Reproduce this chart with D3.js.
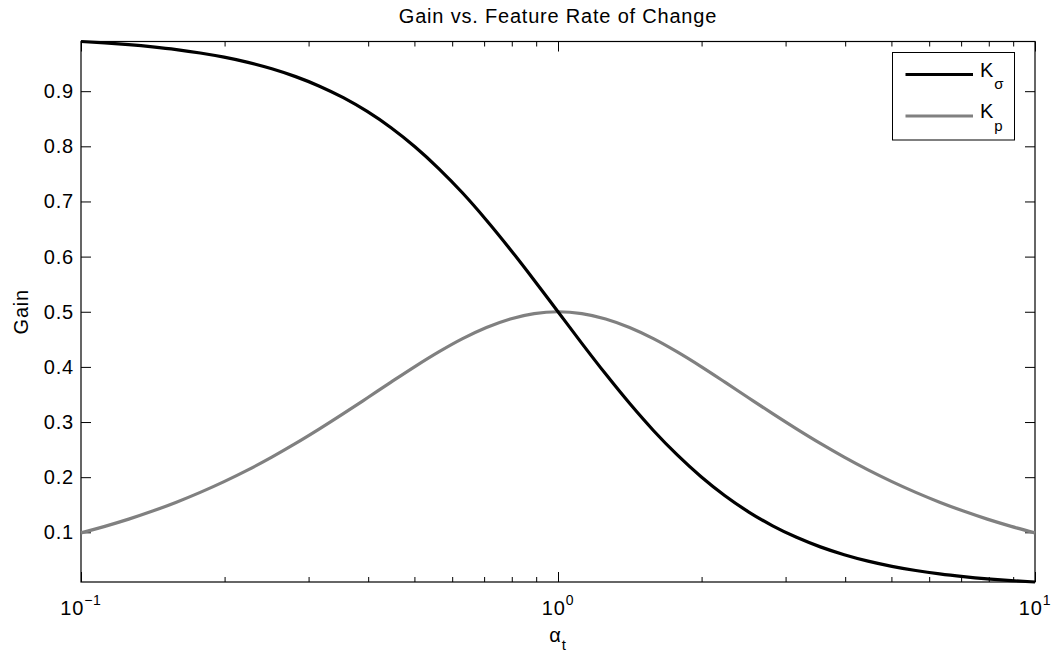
<!DOCTYPE html>
<meta charset="utf-8">
<title>Gain vs. Feature Rate of Change</title>
<style>
    body {
        margin: 0;
        background: #fff;
    }
    svg text {
        font-family: "Liberation Sans", Arial, Helvetica, sans-serif;
        fill: #000;
        letter-spacing: 0.8px;
    }
</style>

<body>
    <script src="https://d3js.org/d3.v7.min.js"></script>
    <script>
        /* alpha_t values (log spaced, 0.1 .. 10) */
        var alpha = [0.1000, 0.1122, 0.1259, 0.1413, 0.1585, 0.1778, 0.1995, 0.2239, 0.2512, 0.2818,
            0.3162, 0.3548, 0.3981, 0.4467, 0.5012, 0.5623, 0.6310, 0.7079, 0.7943, 0.8913,
            1.0000, 1.1220, 1.2589, 1.4125, 1.5849, 1.7783, 1.9953, 2.2387, 2.5119, 2.8184,
            3.1623, 3.5481, 3.9811, 4.4668, 5.0119, 5.6234, 6.3096, 7.0795, 7.9433, 8.9125,
            10.000];

        /* K_sigma gain */
        var kSigma = [0.9901, 0.9876, 0.9844, 0.9804, 0.9755, 0.9693, 0.9617, 0.9523, 0.9406, 0.9264,
            0.9091, 0.8882, 0.8632, 0.8337, 0.7992, 0.7597, 0.7153, 0.6661, 0.6131, 0.5573,
            0.5000, 0.4427, 0.3869, 0.3339, 0.2847, 0.2403, 0.2008, 0.1663, 0.1368, 0.1118,
            0.0909, 0.0736, 0.0594, 0.0477, 0.0383, 0.0307, 0.0245, 0.0196, 0.0156, 0.0124,
            0.0099];

        /* K_p gain */
        var kP = [0.0990, 0.1108, 0.1239, 0.1385, 0.1546, 0.1724, 0.1919, 0.2132, 0.2363, 0.2611,
            0.2875, 0.3151, 0.3436, 0.3724, 0.4006, 0.4272, 0.4513, 0.4715, 0.4870, 0.4967,
            0.5000, 0.4967, 0.4870, 0.4715, 0.4513, 0.4272, 0.4006, 0.3724, 0.3436, 0.3151,
            0.2875, 0.2611, 0.2363, 0.2132, 0.1919, 0.1724, 0.1546, 0.1385, 0.1239, 0.1108,
            0.0990];

        var xTicks = [0.1, 1, 10];
        var xTickExp = ["\u22121", "0", "1"];
        var yTicks = [0.1, 0.2, 0.3, 0.4, 0.5, 0.6, 0.7, 0.8, 0.9];
        var yDomain = [0.0099, 0.9901];

        /* Layout constants (plotTop: "top" is taken by window.top) */
        var width = 1053,
            height = 653;
        var plotLeft = 81, plotRight = 1035, plotTop = 41.5, plotBottom = 582;

        var svg = d3.select("body").append("svg")
            .attr("width", width)
            .attr("height", height);

        var x = d3.scaleLog().domain([0.1, 10]).range([plotLeft, plotRight]);
        var y = d3.scaleLinear().domain(yDomain).range([plotBottom, plotTop]);

        // minor ticks of the log axis
        var minorTicks = x.ticks().filter(function (t) { return xTicks.indexOf(t) < 0; });

        drawAxes();
        drawCurves();
        drawLegend();
        drawLabels();

        function drawAxes() {
            // bottom: major + minor
            svg.append("g")
                .attr("transform", "translate(0," + plotBottom + ")")
                .call(d3.axisBottom(x).tickValues(xTicks).tickSizeInner(-10).tickSizeOuter(0).tickFormat(""));
            svg.append("g")
                .attr("transform", "translate(0," + plotBottom + ")")
                .call(d3.axisBottom(x).tickValues(minorTicks).tickSizeInner(-5).tickSizeOuter(0).tickFormat(""));
            // top
            svg.append("g")
                .attr("transform", "translate(0," + plotTop + ")")
                .call(d3.axisTop(x).tickValues(xTicks).tickSizeInner(-10).tickSizeOuter(0).tickFormat(""));
            svg.append("g")
                .attr("transform", "translate(0," + plotTop + ")")
                .call(d3.axisTop(x).tickValues(minorTicks).tickSizeInner(-5).tickSizeOuter(0).tickFormat(""));
            // left with labels
            svg.append("g")
                .attr("class", "yaxis")
                .attr("transform", "translate(" + plotLeft + ",0)")
                .call(d3.axisLeft(y).tickValues(yTicks).tickSizeInner(-10).tickSizeOuter(0).tickPadding(7)
                    .tickFormat(d3.format(".1f")));
            // right
            svg.append("g")
                .attr("transform", "translate(" + plotRight + ",0)")
                .call(d3.axisRight(y).tickValues(yTicks).tickSizeInner(-10).tickSizeOuter(0).tickFormat(""));

            svg.selectAll(".domain").remove();
            svg.selectAll(".tick line").attr("stroke", "#000").attr("stroke-width", 1);
            svg.selectAll(".yaxis text")
                .attr("font-size", 20)
                .style("font-family", "'Liberation Sans', Arial, sans-serif");

            // box
            svg.append("rect")
                .attr("x", plotLeft)
                .attr("y", plotTop)
                .attr("width", plotRight - plotLeft)
                .attr("height", plotBottom - plotTop)
                .attr("fill", "none")
                .attr("stroke", "#000")
                .attr("stroke-width", 1.2);

            // x tick labels 10^n
            var lbl = svg.selectAll("text.xlab")
                .data(xTicks)
                .enter()
                .append("text")
                .attr("class", "xlab")
                .attr("x", function (d) { return x(d); })
                .attr("y", 615)
                .attr("text-anchor", "middle")
                .attr("font-size", 20);
            lbl.append("tspan").text("10");
            lbl.append("tspan")
                .attr("dy", -10)
                .attr("font-size", 14)
                .text(function (d, i) { return xTickExp[i]; });
        }

        function drawCurves() {
            var line = d3.line()
                .x(function (d, i) { return x(alpha[i]); })
                .y(function (d) { return y(d); })
                .curve(d3.curveMonotoneX);

            var plot = svg.append("g");
            plot.append("path")
                .datum(kP)
                .attr("d", line)
                .attr("fill", "none")
                .attr("stroke", "#808080")
                .attr("stroke-width", 3.2);
            plot.append("path")
                .datum(kSigma)
                .attr("d", line)
                .attr("fill", "none")
                .attr("stroke", "#000")
                .attr("stroke-width", 3.2);
        }

        function drawLegend() {
            var g = svg.append("g");
            g.append("rect")
                .attr("x", 892.5)
                .attr("y", 52.5)
                .attr("width", 122)
                .attr("height", 87.5)
                .attr("fill", "#fff")
                .attr("stroke", "#000")
                .attr("stroke-width", 1);

            var items = [
                { color: "#000", sub: "\u03c3", y: 74.5 },
                { color: "#808080", sub: "p", y: 116 }
            ];
            items.forEach(function (it) {
                g.append("line")
                    .attr("x1", 905.5).attr("x2", 973)
                    .attr("y1", it.y).attr("y2", it.y)
                    .attr("stroke", it.color)
                    .attr("stroke-width", 3.2);
                var t = g.append("text")
                    .attr("x", 980)
                    .attr("y", it.y + 2.3)
                    .attr("font-size", 20);
                t.append("tspan").text("K");
                t.append("tspan")
                    .attr("dy", 12.5)
                    .attr("font-size", 15)
                    .text(it.sub);
            });
        }

        function drawLabels() {
            svg.append("text")
                .attr("x", (plotLeft + plotRight) / 2)
                .attr("y", 23)
                .attr("text-anchor", "middle")
                .attr("font-size", 20)
                .text("Gain vs. Feature Rate of Change");

            svg.append("text")
                .attr("transform", "translate(28," + ((plotTop + plotBottom) / 2) + ") rotate(-90)")
                .attr("text-anchor", "middle")
                .attr("font-size", 20)
                .text("Gain");

            var xl = svg.append("text")
                .attr("x", (plotLeft + plotRight) / 2)
                .attr("y", 642)
                .attr("text-anchor", "middle")
                .attr("font-size", 20);
            xl.append("tspan").text("\u03b1");
            xl.append("tspan")
                .attr("dy", 8)
                .attr("font-size", 15)
                .text("t");
        }
    </script>
</body>
